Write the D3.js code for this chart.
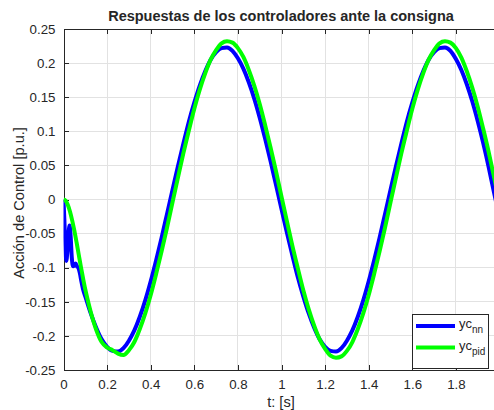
<!DOCTYPE html>
<html lang="es">

<head>
    <meta charset="UTF-8">
    <script src="https://d3js.org/d3.v7.min.js"></script>
    <title>Respuestas de los controladores</title>
    <style>
        body { margin: 0; background: #fff; }
        text { font-family: "Liberation Sans", Arial, Helvetica, sans-serif; fill: #262626; }
    </style>
</head>

<body>
    <div id="chart"></div>
    <script>
        // yc_nn (controlador neuronal)
        const tNN = [0, 0.004, 0.008, 0.013, 0.018, 0.023, 0.028, 0.033, 0.038, 0.044, 0.05, 0.056, 0.062, 0.068,
            0.075, 0.082, 0.09, 0.1, 0.125, 0.15, 0.175, 0.2, 0.225, 0.25, 0.275, 0.3, 0.325, 0.35, 0.375, 0.4,
            0.425, 0.45, 0.475, 0.5, 0.525, 0.55, 0.575, 0.6, 0.625, 0.65, 0.675, 0.7, 0.725, 0.75, 0.775, 0.8,
            0.825, 0.85, 0.875, 0.9, 0.925, 0.95, 0.975, 1.0, 1.025, 1.05, 1.075, 1.1, 1.125, 1.15, 1.175, 1.2,
            1.225, 1.25, 1.275, 1.3, 1.325, 1.35, 1.375, 1.4, 1.425, 1.45, 1.475, 1.5, 1.525, 1.55, 1.575, 1.6,
            1.625, 1.65, 1.675, 1.7, 1.725, 1.75, 1.775, 1.8, 1.825, 1.85, 1.875, 1.9, 1.925, 1.95, 1.975, 2.0];
        const ycNN = [0, -0.03, -0.065, -0.09, -0.075, -0.05, -0.038, -0.055, -0.085, -0.098, -0.096, -0.094, -0.098, -0.1,
            -0.108, -0.12, -0.132, -0.142, -0.167, -0.188, -0.205, -0.216, -0.222, -0.223, -0.218, -0.207, -0.192, -0.172, -0.148, -0.12,
            -0.089, -0.056, -0.021, 0.014, 0.049, 0.082, 0.114, 0.142, 0.167, 0.188, 0.205, 0.216, 0.222, 0.223, 0.218, 0.207,
            0.192, 0.172, 0.148, 0.12, 0.089, 0.056, 0.021, -0.014, -0.049, -0.082, -0.114, -0.142, -0.167, -0.188, -0.205, -0.216,
            -0.222, -0.223, -0.218, -0.207, -0.192, -0.172, -0.148, -0.12, -0.089, -0.056, -0.021, 0.014, 0.049, 0.082, 0.114, 0.142,
            0.167, 0.188, 0.205, 0.216, 0.222, 0.223, 0.218, 0.206, 0.19, 0.169, 0.144, 0.115, 0.083, 0.048, 0.01, -0.026];

        // yc_pid (controlador PID)
        const tPID = [0, 0.01, 0.02, 0.03, 0.04, 0.05, 0.06, 0.07, 0.08, 0.09, 0.1, 0.11, 0.125, 0.15, 0.175, 0.2,
            0.225, 0.25, 0.275, 0.3, 0.325, 0.35, 0.375, 0.4, 0.425, 0.45, 0.475, 0.5, 0.525, 0.55, 0.575, 0.6,
            0.625, 0.65, 0.675, 0.7, 0.725, 0.75, 0.775, 0.8, 0.825, 0.85, 0.875, 0.9, 0.925, 0.95, 0.975, 1.0,
            1.025, 1.05, 1.075, 1.1, 1.125, 1.15, 1.175, 1.2, 1.225, 1.25, 1.275, 1.3, 1.325, 1.35, 1.375, 1.4,
            1.425, 1.45, 1.475, 1.5, 1.525, 1.55, 1.575, 1.6, 1.625, 1.65, 1.675, 1.7, 1.725, 1.75, 1.775, 1.8,
            1.825, 1.85, 1.875, 1.9, 1.925, 1.95, 1.975, 2.0];
        const ycPID = [0, -0.002, -0.008, -0.018, -0.031, -0.046, -0.063, -0.081, -0.099, -0.116, -0.132, -0.146, -0.165, -0.191, -0.209, -0.217,
            -0.221, -0.226, -0.228, -0.221, -0.209, -0.19, -0.167, -0.14, -0.109, -0.076, -0.041, -0.004, 0.032, 0.068, 0.101, 0.133,
            0.161, 0.185, 0.205, 0.219, 0.229, 0.232, 0.23, 0.222, 0.209, 0.19, 0.167, 0.14, 0.109, 0.076, 0.041, 0.004,
            -0.032, -0.068, -0.101, -0.133, -0.161, -0.185, -0.205, -0.219, -0.229, -0.232, -0.23, -0.222, -0.209, -0.19, -0.167, -0.14,
            -0.109, -0.076, -0.041, -0.004, 0.032, 0.068, 0.101, 0.133, 0.161, 0.185, 0.205, 0.219, 0.229, 0.232, 0.23, 0.222,
            0.208, 0.188, 0.164, 0.136, 0.104, 0.07, 0.033, -0.005];

        const xTicks = [0, 0.2, 0.4, 0.6, 0.8, 1, 1.2, 1.4, 1.6, 1.8];
        const xTickLabels = ["0", "0.2", "0.4", "0.6", "0.8", "1", "1.2", "1.4", "1.6", "1.8"];
        const yTicks = [0.25, 0.2, 0.15, 0.1, 0.05, 0, -0.05, -0.1, -0.15, -0.2, -0.25];
        const yTickLabels = ["0.25", "0.2", "0.15", "0.1", "0.05", "0", "-0.05", "-0.1", "-0.15", "-0.2", "-0.25"];

        const width = 494;
        const height = 410;
        const plot = { left: 63.5, right: 499.5, top: 29, bottom: 370 };

        const svg = d3.select("#chart")
            .append("svg")
            .attr("width", width)
            .attr("height", height);

        const x = d3.scaleLinear().domain([0, 2]).range([plot.left, plot.right]);
        const y = d3.scaleLinear().domain([-0.25, 0.25]).range([plot.bottom, plot.top]);

        svg.append("defs").append("clipPath").attr("id", "clip")
            .append("rect")
            .attr("x", plot.left).attr("y", plot.top)
            .attr("width", plot.right - plot.left).attr("height", plot.bottom - plot.top);

        // rejilla
        const grid = svg.append("g").attr("stroke", "#e2e2e2").attr("stroke-width", 1).attr("shape-rendering", "crispEdges");
        grid.selectAll(".gx").data(xTicks.slice(1)).enter().append("line")
            .attr("x1", d => x(d)).attr("x2", d => x(d))
            .attr("y1", plot.top).attr("y2", plot.bottom);
        grid.selectAll(".gy").data(yTicks.slice(1, -1)).enter().append("line")
            .attr("x1", plot.left).attr("x2", width)
            .attr("y1", d => y(d)).attr("y2", d => y(d));

        // ejes (ticks hacia dentro, estilo MATLAB)
        const xAxis = d3.axisBottom(x).tickValues(xTicks).tickSize(-5).tickPadding(10)
            .tickFormat((d, i) => xTickLabels[i]);
        const xAxisTop = d3.axisTop(x).tickValues(xTicks).tickSize(-5).tickFormat("");
        const yAxis = d3.axisLeft(y).tickValues(yTicks).tickSize(-5).tickPadding(8)
            .tickFormat((d, i) => yTickLabels[i]);

        const gx = svg.append("g").attr("transform", `translate(0,${plot.bottom})`).call(xAxis);
        const gxt = svg.append("g").attr("transform", `translate(0,${plot.top})`).call(xAxisTop);
        const gy = svg.append("g").attr("transform", `translate(${plot.left},0)`).call(yAxis);
        [gx, gxt, gy].forEach(g => {
            g.selectAll("path, line").attr("stroke", "#262626").attr("shape-rendering", "crispEdges");
            g.selectAll("text").style("font-size", "13.3px").attr("fill", "#262626")
                .style("font-family", "'Liberation Sans', Arial, sans-serif");
        });

        // curvas
        const line = d3.line()
            .x(d => x(d[0]))
            .y(d => y(d[1]))
            .curve(d3.curveMonotoneX);

        const curves = svg.append("g").attr("clip-path", "url(#clip)");
        curves.append("path")
            .attr("d", line(d3.zip(tNN, ycNN)))
            .attr("fill", "none").attr("stroke", "#0000ff").attr("stroke-width", 4)
            .attr("stroke-linejoin", "round");
        curves.append("path")
            .attr("d", line(d3.zip(tPID, ycPID)))
            .attr("fill", "none").attr("stroke", "#00ff00").attr("stroke-width", 4)
            .attr("stroke-linejoin", "round");

        // titulo y etiquetas
        svg.append("text")
            .attr("x", 281).attr("y", 21)
            .attr("text-anchor", "middle")
            .style("font-size", "14.5px").style("font-weight", "bold")
            .attr("fill", "#000")
            .text("Respuestas de los controladores ante la consigna");
        svg.append("text")
            .attr("x", 281).attr("y", 407)
            .attr("text-anchor", "middle")
            .style("font-size", "14.6px")
            .text("t: [s]");
        svg.append("text")
            .attr("transform", "translate(24,203) rotate(-90)")
            .attr("text-anchor", "middle")
            .style("font-size", "14.6px")
            .text("Acción de Control [p.u.]");

        // leyenda
        const legend = svg.append("g");
        legend.append("rect")
            .attr("x", 412.5).attr("y", 314.5).attr("width", 76).attr("height", 54)
            .attr("fill", "#fff").attr("stroke", "#262626").attr("stroke-width", 1);
        const items = [{ name: "nn", color: "#0000ff" }, { name: "pid", color: "#00ff00" }];
        items.forEach((it, i) => {
            const ly = 326 + i * 21.5;
            legend.append("line")
                .attr("x1", 416).attr("x2", 455).attr("y1", ly).attr("y2", ly)
                .attr("stroke", it.color).attr("stroke-width", 4);
            const t = legend.append("text").attr("x", 459).attr("y", ly + 2).style("font-size", "13px");
            t.append("tspan").text("yc");
            t.append("tspan").attr("dy", 5).style("font-size", "10px").text(it.name);
        });
    </script>
</body>

</html>
